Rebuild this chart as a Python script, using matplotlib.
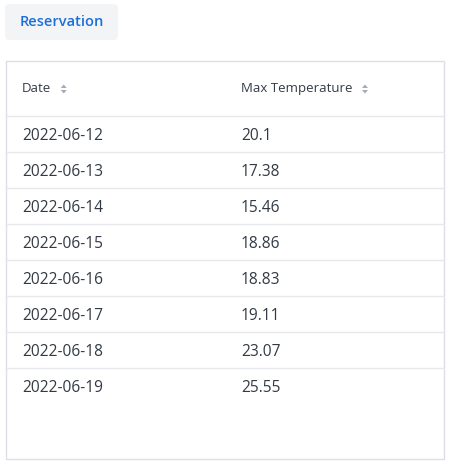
import matplotlib
matplotlib.use('Agg')
import matplotlib.pyplot as plt
from matplotlib.patches import FancyBboxPatch, Rectangle, Polygon

# Données du tableau
dates = ['2022-06-12', '2022-06-13', '2022-06-14', '2022-06-15',
         '2022-06-16', '2022-06-17', '2022-06-18', '2022-06-19']
max_temps = [20.1, 17.38, 15.46, 18.86, 18.83, 19.11, 23.07, 25.55]
columns = ['Date', 'Max Temperature']
button_label = 'Reservation'

plt.rcParams['font.family'] = ['Open Sans', 'DejaVu Sans']

W, H = 450, 468
fig = plt.figure(figsize=(W / 100, H / 100), dpi=100)
ax = fig.add_axes([0, 0, 1, 1])
ax.set_xlim(0, W)
ax.set_ylim(H, 0)
ax.axis('off')

# Bouton
ax.add_patch(FancyBboxPatch((5, 4), 113, 36, boxstyle='round,pad=0,rounding_size=4',
                            facecolor='#f3f4f6', edgecolor='none'))
ax.text(61.5, 22.5, button_label, color='#1a6fd8', fontsize=10.5, fontweight='semibold',
        ha='center', va='center')

# Cadre du tableau
ax.add_patch(Rectangle((5.5, 60.5), 438.5, 398.5, facecolor='white',
                       edgecolor='#dcdfe6', linewidth=1))

col_x = [22, 241]
header_y = 88.5
row_h = 36
first_row = 116

# En-tête avec icônes de tri
for x, name in zip(col_x, columns):
    t = ax.text(x, header_y, name, color='#343b47', fontsize=9.5, fontweight='medium',
                ha='left', va='center')
    fig.canvas.draw()
    bb = t.get_window_extent().transformed(ax.transData.inverted())
    ix = bb.x1 + 12.5
    iy = header_y + 0.5
    ax.add_patch(Polygon([[ix - 3, iy - 1], [ix + 3, iy - 1], [ix, iy - 4.5]],
                         closed=True, facecolor='#a5abb5', edgecolor='none'))
    ax.add_patch(Polygon([[ix - 3, iy + 1], [ix + 3, iy + 1], [ix, iy + 4.5]],
                         closed=True, facecolor='#a5abb5', edgecolor='none'))

ax.plot([6, 443.5], [first_row, first_row], color='#e6e8ec', linewidth=1)

# Lignes du tableau
for i, (d, v) in enumerate(zip(dates, max_temps)):
    yc = first_row + i * row_h + row_h / 2 + 2.5
    ax.text(col_x[0], yc, d, color='#333a44', fontsize=11.2, ha='left', va='center')
    ax.text(col_x[1], yc, str(v), color='#333a44', fontsize=11.2, ha='left', va='center')
    if i < len(dates) - 1:
        yl = first_row + (i + 1) * row_h
        ax.plot([6, 443.5], [yl, yl], color='#e6e8ec', linewidth=1)

fig.savefig('out.png', dpi=100)
